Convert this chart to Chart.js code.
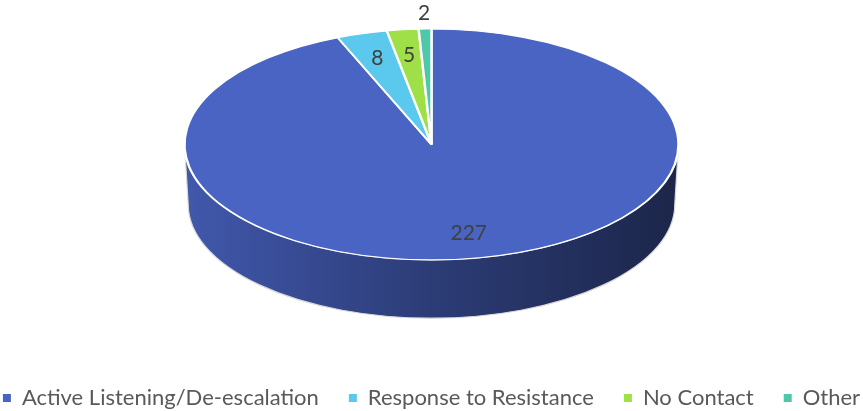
<!DOCTYPE html>
<html><head><meta charset="utf-8">
<script src="https://cdn.jsdelivr.net/npm/chart.js@4.4.1/dist/chart.umd.min.js"></script>
<style>html,body{margin:0;padding:0;background:#fff;overflow:hidden;}#wrap{width:863px;height:411px;}</style>
</head><body><div id="wrap"><canvas id="c" width="863" height="411"></canvas></div>
<script>
const categories = ['Active Listening/De-escalation', 'Response to Resistance', 'No Contact', 'Other'];
const counts = [227, 8, 5, 2];
const sliceColors = ['#4A64C4', '#5BC8EE', '#9FE048', '#4DC9AA'];

// 3D look, expressed relative to the chart area computed by the library
const GEOM = { rxK: 0.753, ryK: 0.352, depthK: 0.183, bottomShrink: 0.985 };

function shade(hex, f) {
  const n = parseInt(hex.slice(1), 16);
  const r = (n >> 16) & 255, g = (n >> 8) & 255, b = n & 255;
  return 'rgb(' + Math.round(r * f) + ',' + Math.round(g * f) + ',' + Math.round(b * f) + ')';
}

function geom(chart) {
  const arcs = chart.getDatasetMeta(0).data;
  const a0 = arcs[0];
  const R = a0.outerRadius;
  const H = chart.chartArea.height;
  const rx = H * GEOM.rxK, ry = H * GEOM.ryK, depth = H * GEOM.depthK;
  return { arcs, R, rx, ry, depth, cx: a0.x, cy: chart.chartArea.top + ry, ox: a0.x, oy: a0.y };
}

const pie3d = {
  id: 'pie3d',
  beforeDatasetsDraw(chart) {
    const ctx = chart.ctx;
    const G = geom(chart);
    const cols = chart.data.datasets[0].backgroundColor;
    G.arcs.forEach((arc, i) => {
      for (let k = -1; k <= 1; k++) {
        const lo = Math.max(arc.startAngle, 2 * Math.PI * k);
        const hi = Math.min(arc.endAngle, Math.PI + 2 * Math.PI * k);
        if (hi <= lo) continue;
        ctx.save();
        ctx.beginPath();
        ctx.ellipse(G.cx, G.cy, G.rx, G.ry, 0, lo, hi, false);
        ctx.ellipse(G.cx, G.cy + G.depth, G.rx * GEOM.bottomShrink, G.ry * GEOM.bottomShrink, 0, hi, lo, true);
        ctx.closePath();
        const g = ctx.createLinearGradient(G.cx - G.rx, 0, G.cx + G.rx, 0);
        g.addColorStop(0, shade(cols[i], 0.88));
        g.addColorStop(0.5, shade(cols[i], 0.6));
        g.addColorStop(1, shade(cols[i], 0.38));
        ctx.fillStyle = g;
        ctx.fill();
        ctx.strokeStyle = '#d9d9d9';
        ctx.lineWidth = 1.2;
        ctx.stroke();
        ctx.restore();
      }
    });
    ctx.save();
    ctx.translate(G.cx, G.cy);
    ctx.scale(G.rx / G.R, G.ry / G.R);
    ctx.translate(-G.ox, -G.oy);
  },
  afterDatasetsDraw(chart) {
    const ctx = chart.ctx;
    ctx.restore();
    const G = geom(chart);
    ctx.save();
    ctx.font = '21px Lato';
    ctx.fillStyle = '#404040';
    ctx.textAlign = 'center';
    ctx.textBaseline = 'middle';
    G.arcs.forEach((arc, i) => {
      const mid = (arc.startAngle + arc.endAngle) / 2;
      const span = arc.endAngle - arc.startAngle;
      const f = span < 0.09 ? 1.14 : 0.78;
      ctx.fillText(String(counts[i]), G.cx + Math.cos(mid) * f * G.rx, G.cy + Math.sin(mid) * f * G.ry);
    });
    ctx.restore();
  }
};

new Chart(document.getElementById('c'), {
  type: 'pie',
  data: {
    labels: categories,
    datasets: [{
      data: counts,
      backgroundColor: sliceColors,
      borderColor: '#ffffff',
      borderWidth: 1.6,
      hoverOffset: 0
    }]
  },
  options: {
    responsive: false,
    animation: false,
    events: [],
    layout: { padding: { top: 29, bottom: -8, left: -28, right: -28 } },
    plugins: {
      tooltip: { enabled: false },
      legend: {
        position: 'bottom',
        labels: {
          boxWidth: 8,
          boxHeight: 8,
          padding: 30,
          color: '#595959',
          font: { family: 'Lato', size: 22 },
          generateLabels: (chart) => Chart.overrides.pie.plugins.legend.labels.generateLabels(chart).map(l => Object.assign(l, { lineWidth: 0 }))
        }
      }
    }
  },
  plugins: [pie3d]
});
</script>
</body></html>
